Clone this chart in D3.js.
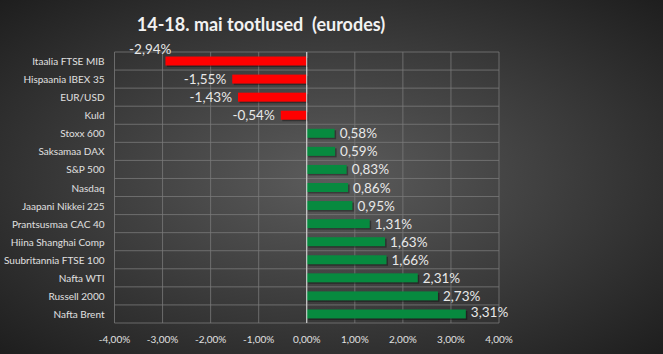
<!DOCTYPE html>
<html><head><meta charset="utf-8">
<script src="https://cdn.jsdelivr.net/npm/d3@7"></script>
<style>html,body{margin:0;padding:0;background:#333;}svg{display:block;}</style>
</head><body>
<script>
const categories = ["Itaalia FTSE MIB","Hispaania IBEX 35","EUR/USD","Kuld","Stoxx 600","Saksamaa DAX","S&P 500","Nasdaq","Jaapani Nikkei 225","Prantsusmaa CAC 40","Hiina Shanghai Comp","Suubritannia FTSE 100","Nafta WTI","Russell 2000","Nafta Brent"];
const values = [-2.94,-1.55,-1.43,-0.54,0.58,0.59,0.83,0.86,0.95,1.31,1.63,1.66,2.31,2.73,3.31];
const xTicks = [-4,-3,-2,-1,0,1,2,3,4];
const title = "14-18. mai tootlused  (eurodes)";

const W = 663, H = 354;
const m = {left:114.5, right:663-499, top:52, bottom:354-323};
const loc = d3.formatLocale({decimal:",", thousands:" ", grouping:[3], currency:["","€"], minus:"-"});
const f2 = loc.format(".2f");
const FONT = "Lato, 'Open Sans', sans-serif";

const svg = d3.select("body").append("svg").attr("width",W).attr("height",H);
const defs = svg.append("defs");
const rg = defs.append("radialGradient").attr("id","bg").attr("cx","50%").attr("cy","50%").attr("r","75%");
rg.append("stop").attr("offset","0%").attr("stop-color","#5c5c5c");
rg.append("stop").attr("offset","100%").attr("stop-color","#1a1a1a");
svg.append("rect").attr("width",W).attr("height",H).attr("fill","url(#bg)");

const x = d3.scaleLinear().domain([-4,4]).range([m.left, W-m.right]);
const y = d3.scaleBand().domain(categories).range([m.top, H-m.bottom]).paddingInner(0).paddingOuter(0);

// grid
const g = svg.append("g");
g.selectAll("line.v").data(xTicks).join("line")
  .attr("x1",d=>x(d)).attr("x2",d=>x(d)).attr("y1",m.top).attr("y2",H-m.bottom)
  .attr("stroke","#7a7a7a").attr("stroke-width",0.8);
const hl = categories.map(c=>y(c)).concat([H-m.bottom]);
g.selectAll("line.h").data(hl).join("line")
  .attr("x1",m.left).attr("x2",W-m.right).attr("y1",d=>d).attr("y2",d=>d)
  .attr("stroke","#7a7a7a").attr("stroke-width",0.8);

// bars
const bh = 9;
const bars = svg.append("g");
bars.selectAll("rect.sh").data(values).join("rect")
  .attr("x",(d)=>Math.min(x(d),x(0))+1.5)
  .attr("y",(d,i)=>y(categories[i])+y.bandwidth()/2-bh/2+1.5)
  .attr("width",d=>Math.abs(x(d)-x(0)))
  .attr("height",bh).attr("fill","#000").attr("opacity",0.35);
bars.selectAll("rect.b").data(values).join("rect")
  .attr("x",(d)=>Math.min(x(d),x(0)))
  .attr("y",(d,i)=>y(categories[i])+y.bandwidth()/2-bh/2)
  .attr("width",d=>Math.abs(x(d)-x(0)))
  .attr("height",bh).attr("fill",d=>d<0?"#ff0000":"#078a3f");

// zero line
svg.append("line").attr("x1",x(0)).attr("x2",x(0)).attr("y1",m.top).attr("y2",H-m.bottom)
  .attr("stroke","#e0e0e0").attr("stroke-width",1);

// data labels
svg.append("g").selectAll("text").data(values).join("text")
  .attr("font-family",FONT).attr("font-size",13.5).attr("fill","#e8e8e8")
  .attr("dominant-baseline","central")
  .each(function(d,i){
    const cy = y(categories[i])+y.bandwidth()/2;
    const t = d3.select(this).text(f2(d)+"%");
    if(d<0){
      const ex = x(d)-6;
      if(ex-45 < m.left){ t.attr("text-anchor","end").attr("x",x(d)+6).attr("y",cy-12); }
      else t.attr("text-anchor","end").attr("x",ex).attr("y",cy);
    } else {
      t.attr("text-anchor","start").attr("x",x(d)+5).attr("y",cy - (x(d)+40>W-m.right?2:0));
    }
  });

// category labels
svg.append("g").selectAll("text").data(categories).join("text")
  .attr("x",m.left-10).attr("y",d=>y(d)+y.bandwidth()/2)
  .attr("text-anchor","end").attr("dominant-baseline","central")
  .attr("font-family",FONT).attr("font-size",10).attr("fill","#e0e0e0")
  .text(d=>d);

// x axis labels
svg.append("g").selectAll("text").data(xTicks).join("text")
  .attr("x",d=>x(d)).attr("y",H-m.bottom+16)
  .attr("text-anchor","middle").attr("dominant-baseline","central")
  .attr("font-family",FONT).attr("font-size",10).attr("fill","#e0e0e0")
  .text(d=>f2(d)+"%");

// title
svg.append("text").attr("x",261).attr("y",24).attr("text-anchor","middle").attr("dominant-baseline","central")
  .attr("font-family",FONT).attr("font-weight","bold").attr("font-size",18)
  .attr("fill","#f2f2f2").style("white-space","pre").text(title);
</script>
</body></html>
